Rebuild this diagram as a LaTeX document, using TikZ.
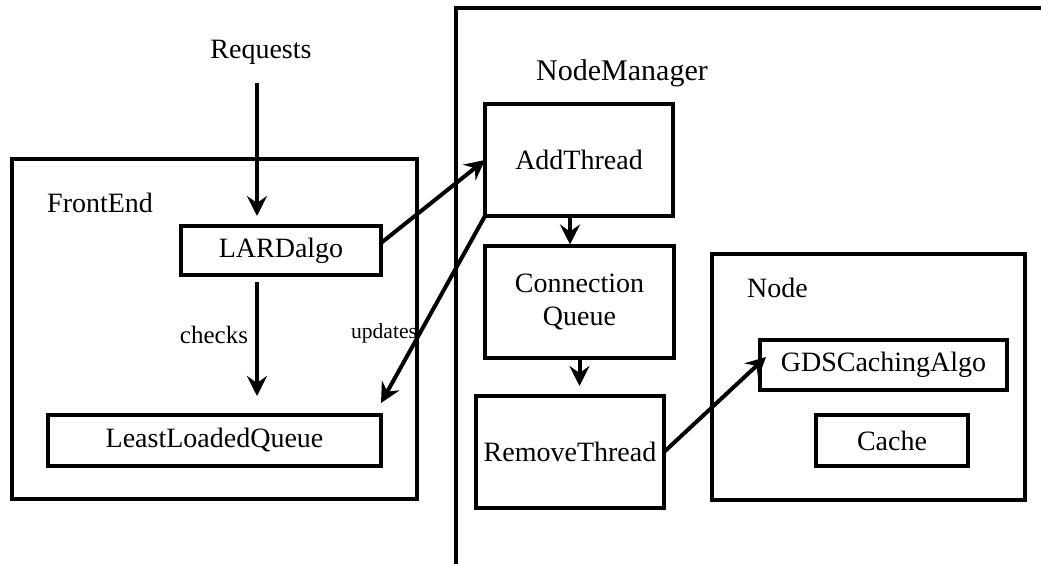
\documentclass[tikz,border=0pt]{standalone}
\usepackage{fontspec}
\setmainfont{Liberation Serif}
\usetikzlibrary{arrows.meta,calc}

\tikzset{
  box/.style={draw, line width=4pt, rectangle, inner sep=0pt, outer sep=0pt,
              font=\fontsize{28}{33}\selectfont, align=center},
  lbl/.style={inner sep=0pt, font=\fontsize{28}{33}\selectfont},
  arr/.style={line width=4pt, -{Stealth[length=20pt,width=20pt,inset=7pt]}},
}

\begin{document}
\begin{tikzpicture}[x=1pt,y=-1pt]
  \useasboundingbox (0,0) rectangle (1041,564);

  % ---- FrontEnd ----
  \node[box, minimum width=405pt, minimum height=340pt] (fe) at (214.5,329) {};
  \node[lbl, anchor=west] (felbl) at (47,203) {FrontEnd};
  \node[lbl] (req) at (261,52) {Requests};
  \node[box, minimum width=200pt, minimum height=49pt] (lard) at (281,250.5) {LARDalgo};
  \node[box, minimum width=333pt, minimum height=51pt] (llq) at (214.5,440.5) {LeastLoadedQueue};
  \node[lbl, font=\fontsize{25}{30}\selectfont] (checks) at (214,335) {checks};
  \node[lbl, font=\fontsize{21.6}{26}\selectfont] (upd) at (384,333) {updates};

  % ---- NodeManager frame (open to the right and bottom) ----
  \draw[line width=4pt] (456,566) -- (456,8) -- (1043,8);
  \node[lbl, font=\fontsize{30}{36}\selectfont] (nm) at (622,73) {NodeManager};
  \node[box, minimum width=188pt, minimum height=112pt] (at) at (579,160) {AddThread};
  \node[box, minimum width=189pt, minimum height=112pt] (cq) at (579.5,301.5) {Connection\\Queue};
  \node[box, minimum width=188pt, minimum height=112pt] (rt) at (570,452) {RemoveThread};

  % ---- Node ----
  \node[box, minimum width=313pt, minimum height=246pt] (nd) at (868.5,377) {};
  \node[lbl, anchor=west] (ndlbl) at (747,288) {Node};
  \node[box, minimum width=247pt, minimum height=50pt] (gds) at (883.5,365) {GDSCachingAlgo};
  \node[box, minimum width=152pt, minimum height=51pt] (cache) at (892,440.5) {Cache};

  % ---- connectors ----
  \coordinate (rin) at (257,83);
  \draw[arr, shorten >=10pt] (rin) -- (rin |- lard.north);
  \draw[arr, shorten <=7pt, shorten >=19pt] (rin |- lard.south) -- (rin |- llq.north);
  \draw[arr] ([yshift=7.5pt]lard.east) -- (at.west);
  \draw[arr] (at.south west) -- ([yshift=12pt]llq.north east);
  \draw[arr, shorten >=1pt] ([xshift=-9pt]at.south) -- ([xshift=-9.5pt]cq.north);
  \draw[arr, shorten >=10pt] (cq.south) -- (cq.south |- rt.north);
  \draw[arr] (rt.east) -- ([xshift=6pt,yshift=8pt]gds.west);
\end{tikzpicture}
\end{document}
